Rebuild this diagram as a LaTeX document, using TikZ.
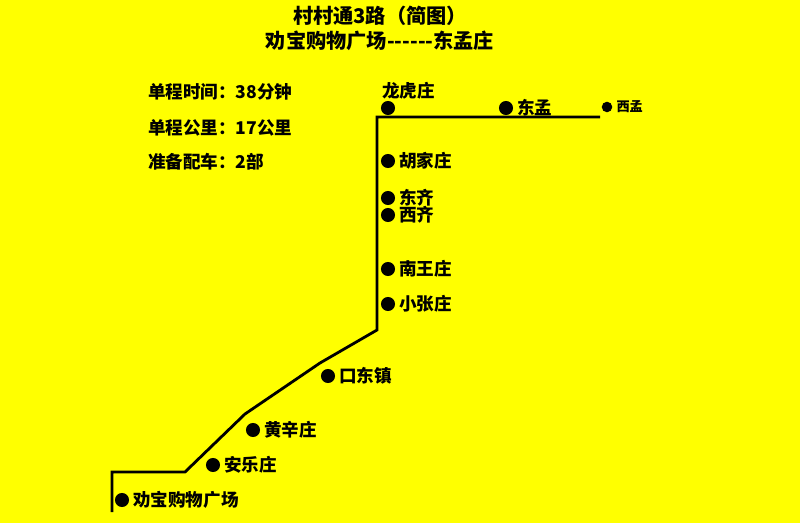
\documentclass[tikz,border=0pt]{standalone}
\usepackage{fontspec}
\newfontfamily\cjk{Noto Sans CJK SC}
\usetikzlibrary{positioning}
\definecolor{bg}{HTML}{FFFF00}
\tikzset{
  route/.style={draw=black, line width=1.6pt},
  stop/.style={circle, fill=black, inner sep=0pt, minimum size=8pt},
  lab/.style={font=\cjk\bfseries\fontsize{10}{12}\selectfont, inner sep=1pt, anchor=west},
  tit/.style={font=\cjk\bfseries\fontsize{11.5}{13}\selectfont},
}
\begin{document}
\begin{tikzpicture}[x=0.02cm, y=-0.02cm]
  \fill[bg] (0,0) rectangle (800,523);
  \useasboundingbox (0,0) rectangle (800,523);
  % title
  \node[tit] (t1) at (380,16) {村村通3路（简图）};
  \node[tit] (t2) at (380,41) {劝宝购物广场------东孟庄};
  % info
  \node[lab] (i1) at (146,92) {单程时间：38分钟};
  \node[lab] (i2) at (146,128) {单程公里：17公里};
  \node[lab] (i3) at (146,162) {准备配车：2部};
  % route
  \coordinate (r0) at (112,512);
  \coordinate (r1) at (112,472);
  \coordinate (r2) at (185,472);
  \coordinate (r3) at (245,414);
  \coordinate (r4) at (320,363);
  \coordinate (r5) at (377,330);
  \coordinate (r6) at (377,117);
  \coordinate (r7) at (600,117);
  \draw[route] (r0) -- (r1) -- (r2) -- (r3) -- (r4) -- (r5) -- (r6) -- (r7);
  % stops
  \node[stop] (s1) at (122,500) {};
  \node[lab, right=1pt of s1] {劝宝购物广场};
  \node[stop] (s2) at (213,465) {};
  \node[lab, right=1pt of s2] {安乐庄};
  \node[stop] (s3) at (253,430) {};
  \node[lab, right=1pt of s3] {黄辛庄};
  \node[stop] (s4) at (328,376) {};
  \node[lab, right=1pt of s4] {口东镇};
  \node[stop] (s5) at (388,304) {};
  \node[lab, right=1pt of s5] {小张庄};
  \node[stop] (s6) at (388,269) {};
  \node[lab, right=1pt of s6] {南王庄};
  \node[stop] (s7) at (388,215) {};
  \node[lab, right=1pt of s7] {西齐};
  \node[stop] (s8) at (388,198) {};
  \node[lab, right=1pt of s8] {东齐};
  \node[stop] (s9) at (388,161) {};
  \node[lab, right=1pt of s9] {胡家庄};
  \node[stop] (s10) at (388,108) {};
  \node[lab] at (380,91) {龙虎庄};
  \node[stop] (s11) at (506,108) {};
  \node[lab, right=1pt of s11] {东孟};
  \node[stop, minimum size=6pt] (s12) at (607,107) {};
  \node[lab, font=\cjk\bfseries\fontsize{7.5}{9}\selectfont, right=1pt of s12] {西孟};
\end{tikzpicture}
\end{document}
